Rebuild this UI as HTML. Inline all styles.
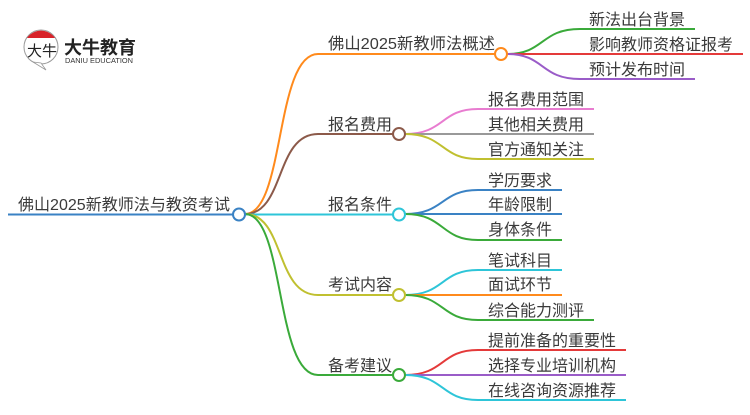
<!DOCTYPE html>
<html><head><meta charset="utf-8"><style>
body{margin:0;background:#fff;}
svg text{font-family:"Liberation Sans","Noto Sans CJK SC",sans-serif;fill:#3a3a3a;}
</style></head><body>
<svg width="750" height="410" viewBox="0 0 750 410" xmlns="http://www.w3.org/2000/svg">
<g fill="none" stroke-width="2">
<path d="M8 214.5H233" stroke="#3a82c4"/>
<path d="M245 214 C285 214 275 54 318 54 H501" stroke="#ff8a1c"/>
<path d="M245 214 C285 214 275 134 318 134 H399" stroke="#8c5a4a"/>
<path d="M245 214.5 H399" stroke="#2ec5d8"/>
<path d="M245 214 C285 214 275 295 318 295 H399" stroke="#c0c030"/>
<path d="M245 214 C285 214 275 375 318 375 H399" stroke="#3aaa3a"/>
<path d="M507 54 C545 54 540 29 580 29 H695" stroke="#3aaa3a"/>
<path d="M507 54 H743" stroke="#e43a3a"/>
<path d="M507 54 C545 54 540 79 580 79 H695" stroke="#9a5cc8"/>
<path d="M405 134 C445 134 440 109 478 109 H594" stroke="#e87cd0"/>
<path d="M405 134 H594" stroke="#999"/>
<path d="M405 134 C445 134 440 159 478 159 H594" stroke="#c0c030"/>
<path d="M405 214 C445 214 440 190 478 190 H562" stroke="#3a82c4"/>
<path d="M405 214 H562" stroke="#3a82c4"/>
<path d="M405 214 C445 214 440 240 478 240 H562" stroke="#3aaa3a"/>
<path d="M405 295 C445 295 440 270 478 270 H562" stroke="#2ec5d8"/>
<path d="M405 295 H562" stroke="#ff8a1c"/>
<path d="M405 295 C445 295 440 320 478 320 H594" stroke="#3aaa3a"/>
<path d="M405 375 C445 375 440 350 478 350 H626" stroke="#e43a3a"/>
<path d="M405 375 H626" stroke="#9a5cc8"/>
<path d="M405 375 C445 375 440 400 478 400 H626" stroke="#2ec5d8"/>
</g>
<g fill="#fff" stroke-width="2">
<circle cx="239" cy="214.5" r="6" stroke="#3a82c4"/>
<circle cx="501" cy="54" r="6" stroke="#ff8a1c"/>
<circle cx="399" cy="134" r="6" stroke="#8c5a4a"/>
<circle cx="399" cy="214.5" r="6" stroke="#2ec5d8"/>
<circle cx="399" cy="295" r="6" stroke="#c0c030"/>
<circle cx="399" cy="375" r="6" stroke="#3aaa3a"/>
</g>
<g font-size="16">
<text x="18" y="210" textLength="212" lengthAdjust="spacingAndGlyphs">佛山2025新教师法与教资考试</text>
<text x="328" y="49" textLength="167" lengthAdjust="spacingAndGlyphs">佛山2025新教师法概述</text>
<text x="328" y="130">报名费用</text>
<text x="328" y="210">报名条件</text>
<text x="328" y="290">考试内容</text>
<text x="328" y="371">备考建议</text>
<text x="589" y="25">新法出台背景</text>
<text x="589" y="50">影响教师资格证报考</text>
<text x="589" y="75">预计发布时间</text>
<text x="488" y="105">报名费用范围</text>
<text x="488" y="130">其他相关费用</text>
<text x="488" y="155">官方通知关注</text>
<text x="488" y="186">学历要求</text>
<text x="488" y="210">年龄限制</text>
<text x="488" y="235">身体条件</text>
<text x="488" y="266">笔试科目</text>
<text x="488" y="290">面试环节</text>
<text x="488" y="316">综合能力测评</text>
<text x="488" y="346">提前准备的重要性</text>
<text x="488" y="371">选择专业培训机构</text>
<text x="488" y="396">在线咨询资源推荐</text>
</g>
<circle cx="41" cy="47" r="17" fill="#fff" stroke="#999" stroke-width="1"/>
<path d="M27 38 A17 17 0 0 1 55 38 Z" fill="#d8232a"/>
<path d="M33 62 L46 70 L41 63 Z" fill="#fff" stroke="#999" stroke-width="0.8"/>
<text x="27" y="56" font-size="15" style="fill:#222">大牛</text>
<text x="64" y="54" font-size="18" font-weight="bold" style="fill:#222">大牛教育</text>
<text x="65" y="63" font-size="7" textLength="68" lengthAdjust="spacingAndGlyphs" style="fill:#333">DANIU EDUCATION</text>
</svg>
</body></html>
